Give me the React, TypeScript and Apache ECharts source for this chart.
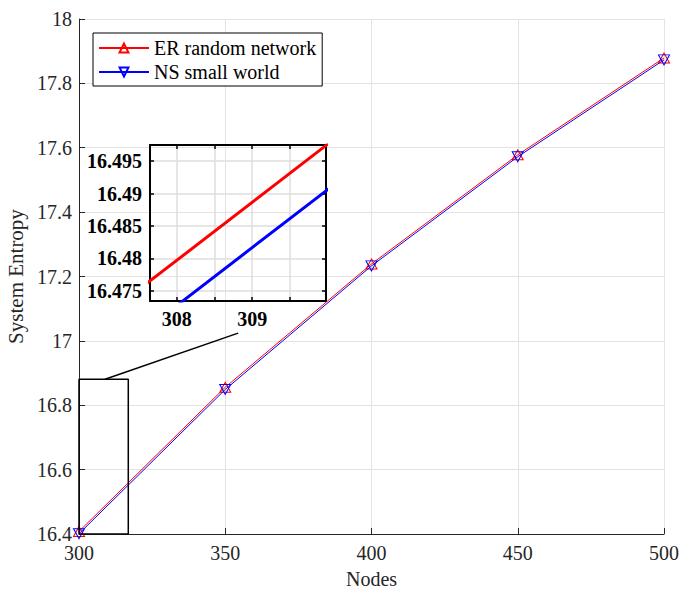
import React, { useEffect, useRef } from "react";
import * as echarts from "echarts";

const nodes = [300, 350, 400, 450, 500];
const erValues = [16.408, 16.856, 17.239, 17.578, 17.879];
const nsValues = [16.401, 16.849, 17.233, 17.572, 17.873];
const zoomBoxX = [300, 316.85, 316.85, 300, 300];
const zoomBoxY = [16.4, 16.4, 16.881, 16.881, 16.4];
const connectorX = [308.9, 354.4];
const connectorY = [16.881, 17.024];
const insetXRange = [307.645, 309.98];
const insetYRange = [16.4734, 16.4975];
const mainXTicks = [300, 500, 50];
const mainYTicks = [16.4, 18, 0.2];

const FONT = "Liberation Serif";
const downTri = "path://M0,0L10,0L5,9Z";

export default function App() {
  const ref = useRef<HTMLDivElement>(null);
  useEffect(() => {
    if (!ref.current) return;
    const chart = echarts.init(ref.current, null, { renderer: "svg" });
    const pair = (xs: number[], ys: number[]) => xs.map((x, i) => [x, ys[i]]);
    const mainAxisCommon = {
      axisLine: { show: true, lineStyle: { color: "#262626", width: 1 } },
      axisTick: { show: true, inside: true, length: 6, lineStyle: { color: "#262626" } },
      splitLine: { show: true, lineStyle: { color: "#e3e3e3", width: 1 } },
      axisLabel: { color: "#262626", fontFamily: FONT, fontSize: 20 },
      nameTextStyle: { color: "#262626", fontFamily: FONT, fontSize: 21 },
    };
    const insetAxis = (pos: string, showLabel: boolean, isX: boolean) => ({
      type: "value",
      gridIndex: 1,
      position: pos,
      min: isX ? insetXRange[0] : insetYRange[0],
      max: isX ? insetXRange[1] : insetYRange[1],
      axisLine: { show: true, onZero: false, lineStyle: { color: "#000", width: 2 } },
      axisTick: { show: true, inside: true, length: 4, interval: 0, lineStyle: { color: "#000", width: 1.5 } },
      splitLine: { show: showLabel, interval: 0, lineStyle: { color: "#dedede", width: 1.5 } },
      axisLabel: {
        show: showLabel,
        interval: 0,
        showMinLabel: false,
        showMaxLabel: false,
        color: "#000",
        fontFamily: FONT,
        fontSize: 20,
        fontWeight: "bold",
        margin: 8,
        formatter: (v: number) => {
          if (isX) return Math.abs(v - Math.round(v)) < 1e-6 ? String(Math.round(v)) : "";
          return Math.abs(v * 200 - Math.round(v * 200)) < 1e-6 ? String(parseFloat(v.toFixed(3))) : "";
        },
      },
    });
    chart.setOption({
      animation: false,
      backgroundColor: "#fff",
      textStyle: { fontFamily: FONT },
      grid: [
        { left: 79, right: 18, top: 19, bottom: 56, outerBoundsMode: "none", containLabel: false },
        { left: 150, top: 145, width: 176, height: 156, outerBoundsMode: "none", containLabel: false, show: true, backgroundColor: "#fff", borderWidth: 0 },
      ],
      legend: {
        show: true,
        data: ["ER random network", "NS small world"],
        orient: "vertical",
        left: 93,
        top: 33,
        padding: [5, 6, 4, 5],
        itemGap: 4,
        itemWidth: 50,
        itemHeight: 11,
        backgroundColor: "#fff",
        borderColor: "#000",
        borderWidth: 1,
        formatter: "{t|{name}}",
        textStyle: {
          color: "#000",
          fontFamily: FONT,
          fontSize: 20,
          rich: { t: { color: "#000", fontFamily: FONT, fontSize: 20, lineHeight: 22 } },
        },
      },
      xAxis: [
        {
          ...mainAxisCommon,
          type: "value",
          gridIndex: 0,
          min: mainXTicks[0],
          max: mainXTicks[1],
          interval: mainXTicks[2],
          name: "Nodes",
          nameLocation: "middle",
          nameGap: 35,
          nameTextStyle: { color: "#262626", fontFamily: FONT, fontSize: 20 },
          axisLabel: { ...mainAxisCommon.axisLabel, margin: 9 },
        },
        insetAxis("bottom", true, true),
        insetAxis("top", false, true),
      ],
      yAxis: [
        {
          ...mainAxisCommon,
          type: "value",
          gridIndex: 0,
          min: mainYTicks[0],
          max: mainYTicks[1],
          interval: mainYTicks[2],
          name: "System Entropy",
          nameLocation: "middle",
          nameGap: 40,
          axisLabel: {
            ...mainAxisCommon.axisLabel,
            margin: 7,
            formatter: (v: number) => String(parseFloat(v.toFixed(1))),
          },
        },
        insetAxis("left", true, false),
        insetAxis("right", false, false),
      ],
      series: [
        {
          name: "ER random network",
          type: "line",
          xAxisIndex: 0,
          yAxisIndex: 0,
          data: pair(nodes, erValues),
          symbol: "triangle",
          symbolSize: [11, 10],
          lineStyle: { color: "#ff0000", width: 1 },
          itemStyle: { color: "none", borderColor: "#ff0000", borderWidth: 1 },
          z: 3,
        },
        {
          name: "NS small world",
          type: "line",
          xAxisIndex: 0,
          yAxisIndex: 0,
          data: pair(nodes, nsValues),
          symbol: downTri,
          symbolSize: [11, 10],
          lineStyle: { color: "#0000ff", width: 1 },
          itemStyle: { color: "none", borderColor: "#0000ff", borderWidth: 1 },
          z: 4,
        },
        {
          name: "zoomBox",
          type: "line",
          xAxisIndex: 0,
          yAxisIndex: 0,
          data: pair(zoomBoxX, zoomBoxY),
          symbol: "none",
          lineStyle: { color: "#000", width: 1.5 },
          silent: true,
          z: 5,
        },
        {
          name: "connector",
          type: "line",
          xAxisIndex: 0,
          yAxisIndex: 0,
          data: pair(connectorX, connectorY),
          symbol: "none",
          lineStyle: { color: "#000", width: 1.5 },
          silent: true,
          z: 5,
        },
        {
          name: "ER inset",
          type: "line",
          xAxisIndex: 1,
          yAxisIndex: 1,
          data: pair(nodes, erValues),
          symbol: "none",
          clip: true,
          lineStyle: { color: "#ff0000", width: 3 },
          z: 10,
        },
        {
          name: "NS inset",
          type: "line",
          xAxisIndex: 1,
          yAxisIndex: 1,
          data: pair(nodes, nsValues),
          symbol: "none",
          clip: true,
          lineStyle: { color: "#0000ff", width: 3 },
          z: 10,
        },
      ],
    });
    return () => chart.dispose();
  }, []);
  return <div ref={ref} style={{ width: 682, height: 590, position: "absolute", left: 0, top: 0 }} />;
}
